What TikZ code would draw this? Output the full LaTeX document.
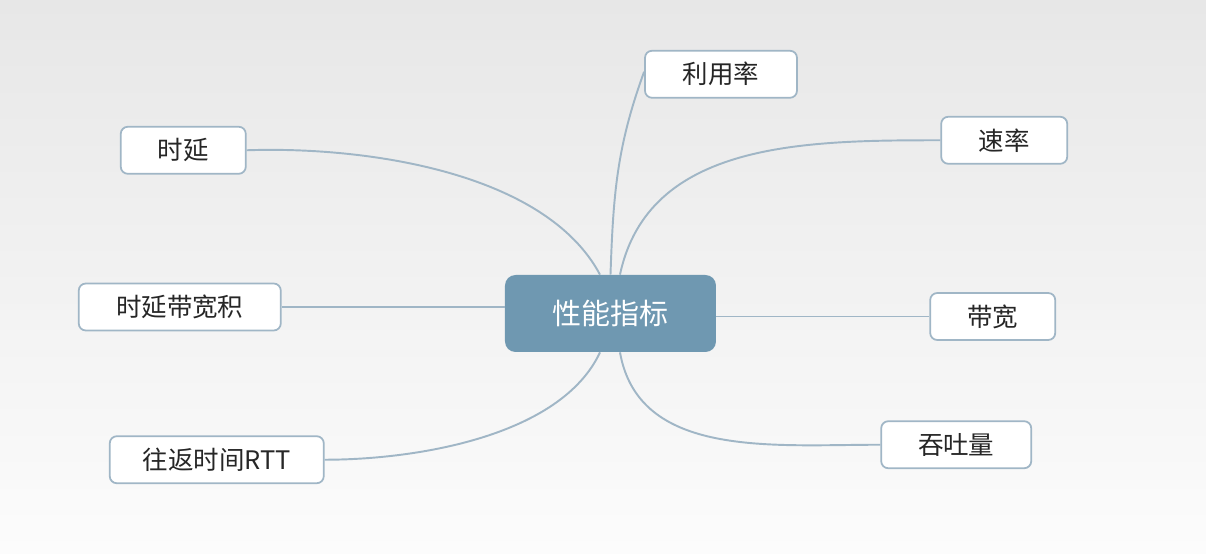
\documentclass[tikz,border=0pt]{standalone}
\usepackage{fontspec}
\setmainfont{Noto Sans CJK SC}
\usetikzlibrary{positioning}
\definecolor{rootblue}{RGB}{111,152,177}
\definecolor{leafline}{RGB}{160,182,198}
\definecolor{bgtop}{RGB}{231,231,231}
\definecolor{bgmid}{RGB}{245,245,245}
\definecolor{bgbot}{RGB}{252,252,252}
\tikzstyle{root} = [rectangle, rounded corners=6pt, minimum width=4.22cm, minimum height=1.54cm, text centered, fill=rootblue, text=white, font=\fontsize{16.5}{18}\selectfont]
\tikzstyle{leaf} = [rectangle, rounded corners=4pt, minimum height=0.94cm, text centered, draw=leafline, line width=1pt, fill=white, text=black!85, font=\fontsize{14.5}{16}\selectfont]
\tikzstyle{branch} = [draw=leafline, line width=1.1pt]

\begin{document}
\begin{tikzpicture}
        % Background
        \shade[top color=bgtop, middle color=bgmid, bottom color=bgbot] (-12.21,-4.81) rectangle (11.91,6.27);
        \useasboundingbox (-12.21,-4.81) rectangle (11.91,6.27);

        % Nodes
        \node (perf) [root] at (0,0) {性能指标};
        \node (delay) [leaf, minimum width=2.5cm, above left=2.0cm and 5.16cm of perf] {时延};
        \node (util) [leaf, minimum width=3.04cm, above=3.52cm of perf, xshift=2.21cm] {利用率};
        \node (rate) [leaf, minimum width=2.52cm, above right=2.2cm and 4.48cm of perf] {速率};
        \node (dbp) [leaf, minimum width=4.04cm, left=4.46cm of perf, yshift=0.13cm] {时延带宽积};
        \node (bw) [leaf, minimum width=2.5cm, right=4.26cm of perf, yshift=-0.06cm] {带宽};
        \node (rtt) [leaf, minimum width=4.28cm, below left=1.66cm and 3.6cm of perf] {往返时间RTT};
        \node (tput) [leaf, minimum width=3.0cm, below right=1.36cm and 3.28cm of perf] {吞吐量};

        % Connections
        \draw [branch] ([xshift=-0.21cm]perf.north) to[out=118, in=2, looseness=0.8] (delay.east);
        \draw [branch] (perf.north) to[out=88, in=250] ([yshift=0.05cm]util.west);
        \draw [branch] ([xshift=0.19cm]perf.north) to[out=78, in=180] (rate.west);
        \draw [branch] (dbp.east -| perf.west) -- (dbp.east);
        \draw [branch] (bw.west -| perf.east) -- (bw.west);
        \draw [branch] ([xshift=-0.21cm]perf.south) to[out=245, in=0, looseness=0.8] (rtt.east);
        \draw [branch] ([xshift=0.19cm]perf.south) to[out=280, in=180] (tput.west);
    \end{tikzpicture}
\end{document}
